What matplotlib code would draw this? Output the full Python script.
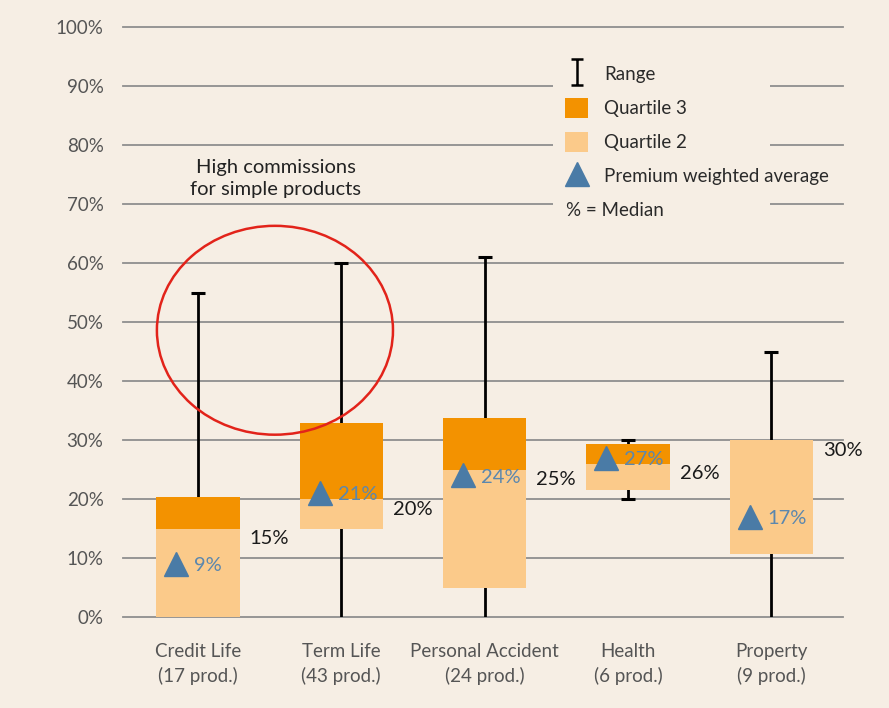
import matplotlib.pyplot as plt
import numpy as np
from matplotlib.patches import Ellipse, Rectangle, Patch
from matplotlib.lines import Line2D
from matplotlib.path import Path

plt.rcParams['font.family'] = ['Lato', 'DejaVu Sans']

categories = ['Credit Life\n(17 prod.)', 'Term Life\n(43 prod.)', 'Personal Accident\n(24 prod.)',
              'Health\n(6 prod.)', 'Property\n(9 prod.)']
range_lo = [0, 0, 0, 20, 0]
range_hi = [55, 60, 61, 30, 45]
q1 = [0, 15, 5, 21.6, 10.6]
median = [15, 20, 25, 26, 30]
q3 = [20.3, 32.8, 33.8, 29.4, 30]
weighted_avg = [9, 21, 24, 27, 17]

bg = '#f6eee4'
c_q3 = '#f39200'
c_q2 = '#fbca8a'
c_tri = '#4a7ba6'
c_tri_txt = '#5b87ae'
c_grid = '#8e8e8e'
c_tick = '#555555'

fig = plt.figure(figsize=(8.89, 7.08), dpi=100, facecolor=bg)
ax = fig.add_axes([123/889, 1-617/708, 720/889, 590/708])
ax.set_facecolor(bg)

x = np.arange(len(categories))
w = 0.58

# grid
ax.set_ylim(0, 100)
ax.set_xlim(-0.523, 4.50)
ax.set_yticks(np.arange(0, 101, 10))
ax.set_yticklabels([f'{v}%' for v in range(0, 101, 10)])
ax.yaxis.grid(True, color=c_grid, lw=1.3, zorder=0)
for s in ax.spines.values():
    s.set_visible(False)
ax.tick_params(axis='y', length=0, pad=14, labelsize=13.5, labelcolor=c_tick)
ax.set_xticks(x)
ax.set_xticklabels(categories, linespacing=1.45)
ax.tick_params(axis='x', length=0, pad=19, labelsize=13.5, labelcolor=c_tick)
for g in ax.get_ygridlines():
    g.set_clip_on(False)
ax.set_axisbelow(True)

# whiskers
ax.vlines(x, range_lo, range_hi, color='black', lw=2, zorder=2)
ax.plot(x, range_hi, ls='none', marker='_', ms=10, mew=2.2, color='black', zorder=2)
lo_x = [xi for xi, lo in zip(x, range_lo) if lo > 0]
lo_y = [lo for lo in range_lo if lo > 0]
ax.plot(lo_x, lo_y, ls='none', marker='_', ms=10, mew=2.2, color='black', zorder=2)

# boxes
q1a = np.array(q1)
meda = np.array(median)
q3a = np.array(q3)
ax.bar(x, meda - q1a, bottom=q1a, width=w, color=c_q2, zorder=3)
ax.bar(x, q3a - meda, bottom=meda, width=w, color=c_q3, zorder=3)

# weighted average markers and labels
ax.plot(x - 0.15, weighted_avg, ls='none', marker='^', ms=17, color=c_tri, zorder=4)
for xi, v in zip(x, weighted_avg):
    ax.text(xi - 0.025, v - 0.3, f'{v}%', color=c_tri_txt, fontsize=14.5, va='center', ha='left', zorder=5)

# median labels
for xi, m in zip(x, median):
    ax.text(xi + w/2 + 0.07, m - 0.3, f'{m}%', color='#1a1a1a', fontsize=14.5, va='top', ha='left', zorder=5)

# annotation
ax.add_patch(Ellipse((0.537, 48.6), 1.647, 35.4, fill=False, ec='#e2231a', lw=1.8, zorder=6))
ax.text(0.544, 74.3, 'High commissions\nfor simple products', ha='center', va='center',
        fontsize=14.5, color='#222222', linespacing=1.35, zorder=6)

# legend area
ax.add_patch(Rectangle((0.597, 0.665), 0.302, 0.28, transform=ax.transAxes,
                       facecolor=bg, edgecolor='none', zorder=1))
range_icon = Path([(-0.45, 1), (0.45, 1), (0, 1), (0, -1), (-0.45, -1), (0.45, -1)],
                  [Path.MOVETO, Path.LINETO, Path.MOVETO, Path.LINETO, Path.MOVETO, Path.LINETO])
handles = [Line2D([], [], ls='none', marker=range_icon, ms=19, mew=1.8, color='black', fillstyle='none'),
           Patch(facecolor=c_q3),
           Patch(facecolor=c_q2),
           Line2D([], [], ls='none', marker='^', ms=17, color=c_tri)]
labels = ['Range', 'Quartile 3', 'Quartile 2', 'Premium weighted average']
leg = fig.legend(handles, labels, loc='upper left', bbox_to_anchor=(565/889, 1-64/708),
                 frameon=False, fontsize=13.5, handlelength=1.25, handleheight=1.25,
                 handletextpad=0.85, labelspacing=0.75, borderpad=0, borderaxespad=0)
for t in leg.get_texts():
    t.set_color('#2a2a2a')
fig.text(566/889, 1-210/708, '% = Median', fontsize=13.5, color='#2a2a2a', va='center', ha='left')

fig.savefig('out.png', dpi=100, facecolor=bg)
